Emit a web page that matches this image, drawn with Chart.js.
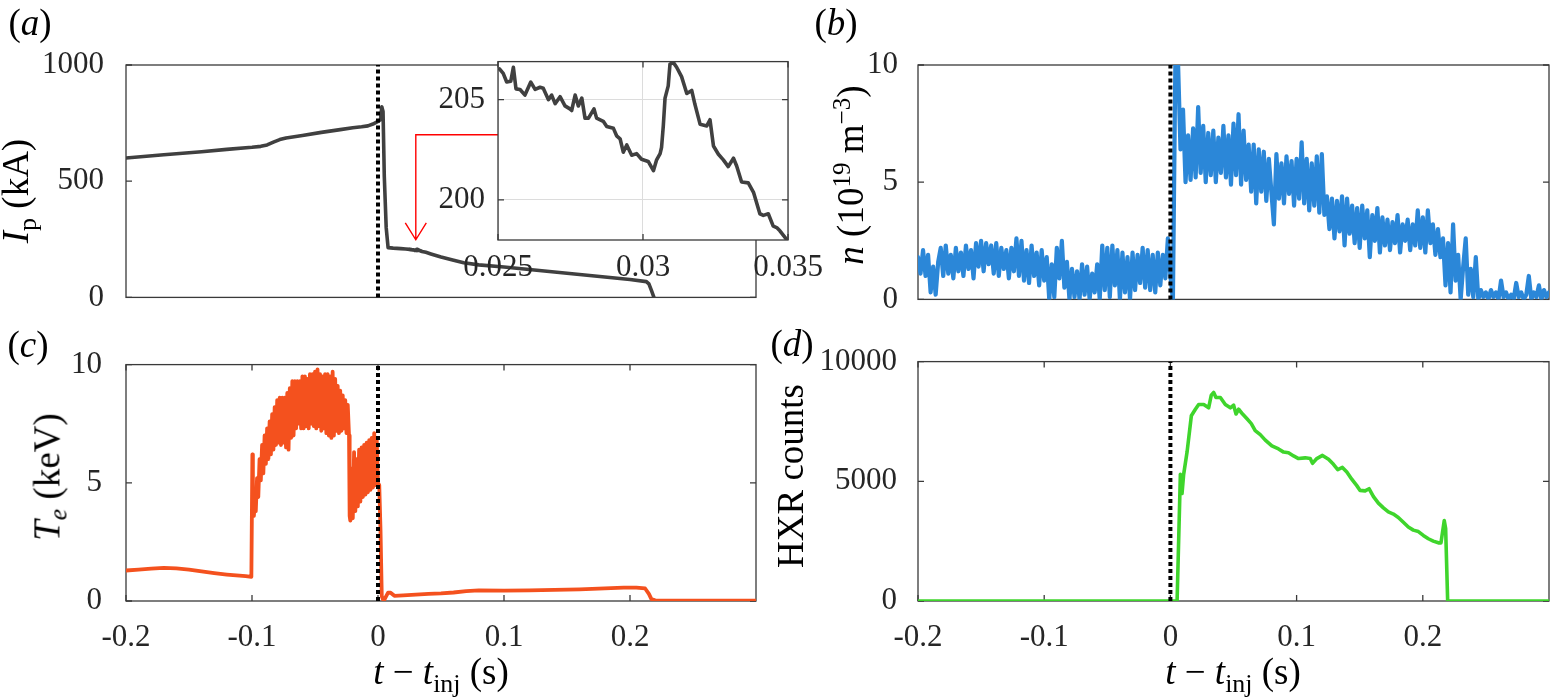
<!DOCTYPE html>
<html><head><meta charset="utf-8">
<script src="https://cdn.jsdelivr.net/npm/chart.js@4.4.1/dist/chart.umd.min.js"></script>
<style>
html,body{margin:0;padding:0;background:#fff;}
#wrap{position:relative;width:1551px;height:697px;overflow:hidden;background:#fff;font-family:'Liberation Serif','DejaVu Serif','Noto Serif',serif;color:#000;}
canvas{position:absolute;}
.lab{position:absolute;white-space:nowrap;font-size:37px;line-height:1;color:#000;}
.rot{transform:translate(-50%,-50%) rotate(-90deg);}
.hor{transform:translate(-50%,-50%);}
.sb{font-size:70%;vertical-align:-0.28em;}
.sp{font-size:68%;vertical-align:0.52em;}
</style></head><body>
<div id="wrap">
<canvas id="cA" width="800" height="330" style="left:0;top:0;width:800px;height:330px"></canvas>
<canvas id="cC" width="800" height="367" style="left:0;top:330px;width:800px;height:367px"></canvas>
<canvas id="cB" width="751" height="330" style="left:800px;top:0;width:751px;height:330px"></canvas>
<canvas id="cD" width="751" height="367" style="left:800px;top:330px;width:751px;height:367px"></canvas>
<canvas id="cI" width="420" height="260" style="left:420px;top:30px;width:420px;height:260px"></canvas>

<div class="lab hor" style="left:30px;top:22px">(<i>a</i>)</div>
<div class="lab hor" style="left:836px;top:22px">(<i>b</i>)</div>
<div class="lab hor" style="left:28px;top:344px">(<i>c</i>)</div>
<div class="lab hor" style="left:792px;top:343px">(<i>d</i>)</div>
<div class="lab rot" style="left:19px;top:191px"><i>I</i><span class="sb">p</span>&nbsp;(kA)</div>
<div class="lab rot" style="left:849px;top:175px"><i>n</i>&nbsp;(10<span class="sp">19</span>&nbsp;m<span class="sp">−3</span>)</div>
<div class="lab rot" style="left:50px;top:477px"><i>T</i><span class="sb"><i>e</i></span>&nbsp;(keV)</div>
<div class="lab rot" style="left:790px;top:476px">HXR counts</div>
<div class="lab hor" style="left:441px;top:675px"><i>t</i> − <i>t</i><span class="sb">inj</span>&nbsp;(s)</div>
<div class="lab hor" style="left:1233px;top:675px"><i>t</i> − <i>t</i><span class="sb">inj</span>&nbsp;(s)</div>
</div>
<script>
// ---------- data ----------
const xTicks = [-0.2, -0.1, 0, 0.1, 0.2];
const ipTicks = [0, 500, 1000];
const nTicks = [0, 5, 10];
const teTicks = [0, 5, 10];
const hxrTicks = [0, 5000, 10000];
const insetXTicks = [0.025, 0.03, 0.035];
const insetYTicks = [200, 205];

// (a) plasma current, kA
const ipPreT = [-0.2,-0.17,-0.14,-0.12,-0.1,-0.093,-0.088,-0.083,-0.078,-0.073,-0.06,-0.045,-0.03,-0.02,-0.013,-0.008,-0.004,0,0.002,0.003,0.004,0.005,0.0065,0.008,0.012,0.018,0.022];
const ipPreV = [600,614,627,637,646,650,656,668,679,686,697,710,722,730,734,738,746,757,765,820,800,520,300,214,212,210,208];
// zoomed window (inset)
const insT = [0.02505,0.02518,0.0253,0.02544,0.02553,0.02562,0.02576,0.02593,0.02613,0.02628,0.02645,0.02656,0.02674,0.02685,0.02697,0.02714,0.02731,0.02748,0.02754,0.02766,0.02777,0.02789,0.028,0.02812,0.02831,0.0284,0.02863,0.02875,0.02898,0.02909,0.02921,0.02932,0.02944,0.02961,0.02978,0.02995,0.03018,0.03036,0.03047,0.03059,0.03064,0.0307,0.03076,0.03087,0.03093,0.03105,0.03116,0.03133,0.03151,0.03168,0.03179,0.03197,0.0322,0.03231,0.03243,0.0326,0.03277,0.03294,0.03312,0.03323,0.0334,0.03363,0.03381,0.03403,0.03415,0.03432,0.03449,0.03461,0.03472,0.03495];
const insV = [206.54,206.31,205.88,205.92,206.62,205.54,205.51,205.23,205.88,205.51,205.62,205.57,205.00,205.23,204.80,205.15,204.69,204.54,204.46,205.23,204.69,205.08,204.08,204.08,204.54,204.08,203.92,203.66,203.57,203.20,203.05,202.38,202.74,202.23,202.31,202.03,201.92,201.46,202.00,202.31,202.62,203.69,205.08,205.69,206.77,206.85,206.62,206.15,205.31,205.46,204.77,203.77,203.69,204.00,202.69,202.28,202.00,201.66,202.08,201.69,200.89,200.85,200.38,199.31,199.23,199.31,198.69,198.62,198.46,198.03];
const ipPostT = [0.038,0.042,0.05,0.06,0.068,0.08,0.1,0.12,0.15,0.18,0.2,0.213,0.215,0.217,0.219];
const ipPostV = [194,187,174,160,149,140,131,120,104,88,77,68,58,30,0];

// (b) density, 1e19 m^-3, sampled every 2 ms from -0.2 s
const nT0 = -0.2, nDt = 0.002;
const nV = [1.8,1.1,2.1,1.0,1.9,0.3,1.4,0.2,1.6,2.2,
1.0,2.3,1.1,1.9,0.9,2.2,1.2,2.0,1.0,2.3,
1.3,2.1,0.9,2.4,1.4,2.5,1.2,2.4,1.5,2.3,
1.1,2.4,1.0,2.2,1.3,2.1,0.9,2.2,1.2,2.6,
1.0,2.5,0.8,2.1,0.7,2.3,1.0,2.0,0.6,2.1,
0.8,1.8,0.0,1.5,0.1,2.2,0.9,2.5,0.5,1.6,
0.0,1.3,0.1,1.2,0.0,1.5,0.2,1.4,0.0,1.1,
0.3,1.5,0.0,2.3,0.4,2.2,0.1,2.3,0.6,2.1,
0.0,2.0,0.3,1.8,0.0,2.0,0.4,1.9,0.7,2.2,
0.5,2.1,0.4,1.9,0.3,2.0,0.6,1.9,0.9,2.6,
1.0,0.0,10.5,10.2,6.4,8.1,5.0,7.0,5.1,7.3,
5.2,8.2,5.4,7.4,5.0,7.1,5.3,7.2,5.0,6.9,
5.4,7.4,5.2,7.0,4.9,7.5,5.3,7.9,4.9,7.2,
5.1,6.6,4.6,6.6,4.1,6.4,4.6,6.3,4.2,6.0,
4.6,3.2,6.2,4.3,5.8,4.1,6.1,4.5,5.9,4.0,
6.0,4.3,6.7,4.1,6.0,3.8,5.8,4.0,6.1,3.7,
6.2,3.6,4.4,3.0,4.3,2.6,4.2,2.9,4.4,2.3,
4.3,2.8,4.0,2.4,3.9,2.2,4.0,2.6,3.8,1.8,
3.6,2.5,3.9,2.0,3.5,2.3,3.4,2.1,3.3,2.4,
3.6,2.0,3.2,2.5,3.4,2.1,3.2,2.3,3.8,2.2,
3.5,2.0,3.8,2.4,3.2,1.9,3.0,1.8,2.6,0.6,
2.4,0.3,3.2,0.8,1.9,0.0,1.4,2.6,0.2,1.3,
0.1,1.8,0.0,0.4,0.1,0.3,0.0,0.4,0.1,0.3,
0.0,0.8,0.1,0.3,0.0,0.2,0.0,0.7,0.1,0.3,
0.0,0.2,1.0,0.0,0.3,0.1,0.6,0.0,0.4,0.1,0.3];

// (c) electron temperature, keV
const tePreT = [-0.2,-0.19,-0.18,-0.17,-0.16,-0.15,-0.14,-0.13,-0.12,-0.11,-0.105,-0.1005,-0.0997,-0.0993,-0.0985];
const tePreV = [1.29,1.33,1.37,1.40,1.38,1.33,1.25,1.18,1.12,1.07,1.05,1.02,6.2,3.8,3.6];
const teBand1T0 = -0.098, teBandDt = 0.001;
const teBand1V = [4.0,3.8,5.2,4.4,6.0,5.1,6.6,5.4,7.0,5.8,
7.3,6.0,7.6,6.2,7.9,6.4,8.2,6.6,8.5,6.7,
8.6,6.6,8.6,6.7,8.6,6.5,8.8,6.4,9.0,6.9,
9.3,7.0,9.3,7.3,9.3,7.5,9.3,7.3,9.5,7.3,
9.5,7.4,9.4,7.3,9.6,7.5,9.6,7.4,9.7,7.3,
9.8,7.4,9.6,7.2,9.5,7.3,9.6,7.1,9.6,7.0,
9.5,6.9,9.7,7.0,9.4,7.2,9.1,7.1,8.9,7.2,
8.7,7.3,8.5,7.1,8.3,7.0];
const teMidT = [-0.0225,-0.022];
const teMidV = [3.6,3.4];
const teBand2T0 = -0.021;
const teBand2V = [5.6,3.5,6.3,3.8,6.0,4.0,6.4,4.2,6.5,4.4,6.6,4.5,6.7,4.6,6.8,4.7,6.9,4.8,7.1,4.9,6.8];
const tePostT = [0,0.001,0.002,0.003,0.0045,0.006,0.008,0.010,0.013,0.02,0.03,0.04,0.05,0.06,0.07,0.08,0.10,0.12,0.14,0.16,0.18,0.195,0.205,0.212,0.215,0.217,0.22,0.25,0.30];
const tePostV = [5.0,4.9,3.0,0.2,0.0,0.15,0.35,0.35,0.22,0.24,0.27,0.30,0.32,0.36,0.42,0.45,0.44,0.45,0.47,0.49,0.53,0.57,0.57,0.53,0.3,0.08,0.03,0.02,0.02];

// (d) hard X-ray counts
const hxT = [-0.2,0.0053,0.0079,0.0092,0.0105,0.0132,0.0166,0.0198,0.0224,0.0264,0.0303,0.0324,0.0343,0.0361,0.0396,0.0435,0.0475,0.0501,0.0520,0.0541,0.0572,0.0607,0.0641,0.0672,0.0712,0.0752,0.0804,0.0857,0.0897,0.0936,0.0976,0.1015,0.1068,0.1108,0.1126,0.1160,0.1205,0.1253,0.1292,0.1326,0.1363,0.1398,0.1437,0.1477,0.1503,0.1543,0.1574,0.1609,0.1648,0.1688,0.1727,0.1767,0.1806,0.1846,0.1885,0.1925,0.1965,0.2004,0.2044,0.2083,0.2123,0.2144,0.2170,0.2181,0.2197,0.3];
const hxV = [0,0,5290,4490,5290,6220,7740,8010,8210,8210,8070,8600,8710,8500,8500,8210,8070,8180,7810,8010,7810,7610,7410,7120,6950,6720,6480,6350,6220,6190,6060,5950,5980,5950,5750,5950,6080,5920,5710,5490,5580,5390,5090,4820,4620,4600,4690,4360,4090,3890,3720,3630,3490,3290,3090,2960,2900,2740,2600,2500,2430,2430,3360,3030,0,0];

// arrow annotation (in panel-a data units)
const arrowT = 0.03, arrowTopIp = 700, arrowTipIp = 248, arrowRightT = 0.0952;

// ---------- helpers ----------
const pairs = (T, V) => T.map((t, i) => ({x: t, y: V[i]}));
const sampled = (t0, dt, V) => V.map((v, i) => ({x: +(t0 + i * dt).toFixed(6), y: v}));
const fmt = v => String(Number((+v).toFixed(3)));

Chart.defaults.font.family = "'Liberation Serif','DejaVu Serif','Noto Serif',serif";
Chart.defaults.font.size = 31;
Chart.defaults.color = '#262626';

const mbox = {
  id: 'mbox',
  beforeDraw(chart, args, o) {
    if (!o.bg) return;
    const a = chart.chartArea, ctx = chart.ctx;
    ctx.save(); ctx.fillStyle = '#fff';
    ctx.fillRect(a.left, a.top, a.right - a.left, a.bottom - a.top); ctx.restore();
  },
  beforeDatasetsDraw(chart, args, o) {
    const a = chart.chartArea, ctx = chart.ctx, sx = chart.scales.x, sy = chart.scales.y;
    const L = 6;
    ctx.save();
    ctx.strokeStyle = '#3a3a3a'; ctx.lineWidth = 1.3;
    ctx.beginPath();
    if (o.xTicks) sx.ticks.forEach(t => {
      const p = sx.getPixelForValue(t.value);
      ctx.moveTo(p, a.bottom); ctx.lineTo(p, a.bottom - L);
      ctx.moveTo(p, a.top); ctx.lineTo(p, a.top + L);
    });
    sy.ticks.forEach(t => {
      const p = sy.getPixelForValue(t.value);
      ctx.moveTo(a.left, p); ctx.lineTo(a.left + L, p);
      ctx.moveTo(a.right, p); ctx.lineTo(a.right - L, p);
    });
    ctx.stroke();
    ctx.strokeRect(a.left, a.top, a.right - a.left, a.bottom - a.top);
    ctx.restore();
  },
  afterDatasetsDraw(chart, args, o) {
    if (!o.arrow) return;
    const ctx = chart.ctx, sx = chart.scales.x, sy = chart.scales.y;
    const x = sx.getPixelForValue(arrowT), xr = sx.getPixelForValue(arrowRightT);
    const y0 = sy.getPixelForValue(arrowTopIp), y1 = sy.getPixelForValue(arrowTipIp);
    ctx.save();
    ctx.strokeStyle = '#ff0000'; ctx.lineWidth = 1.4;
    ctx.beginPath();
    ctx.moveTo(xr, y0); ctx.lineTo(x, y0); ctx.lineTo(x, y1);
    ctx.moveTo(x - 10.5, y1 - 17); ctx.lineTo(x, y1); ctx.lineTo(x + 10.5, y1 - 17);
    ctx.stroke();
    ctx.restore();
  }
};

function line(data, color, w) {
  return {data, borderColor: color, borderWidth: w, pointRadius: 0, tension: 0,
          borderJoinStyle: 'round', borderCapStyle: 'round', fill: false, order: 1};
}
function zeroLine(y0, y1) {
  return {data: [{x: 0, y: y0}, {x: 0, y: y1}], borderColor: '#000', borderWidth: 4,
          borderDash: [4, 3], pointRadius: 0, fill: false, order: 0};
}

function makeChart(id, p) {
  return new Chart(document.getElementById(id), {
    type: 'line',
    data: {datasets: p.datasets},
    plugins: [mbox],
    options: {
      responsive: false, animation: false, events: [],
      layout: {padding: p.pad},
      plugins: {legend: {display: false}, tooltip: {enabled: false}, mbox: p.box},
      scales: {
        x: {
          type: 'linear', min: p.xMin, max: p.xMax,
          afterBuildTicks: s => { s.ticks = p.xTickVals.map(v => ({value: v})); },
          afterFit: s => { s.height = p.xH; },
          ticks: {display: p.xLabels, padding: p.xPad, maxRotation: 0, autoSkip: false, callback: fmt},
          grid: p.grid ? {display: true, drawTicks: false, color: '#dcdcdc', lineWidth: 1} : {display: false},
          border: {display: false}
        },
        y: {
          type: 'linear', min: p.yMin, max: p.yMax,
          afterBuildTicks: s => { s.ticks = p.yTickVals.map(v => ({value: v})); },
          afterFit: s => { s.width = p.yW; },
          ticks: {padding: p.yPad, autoSkip: false, callback: fmt},
          grid: p.grid ? {display: true, drawTicks: false, color: '#dcdcdc', lineWidth: 1} : {display: false},
          border: {display: false}
        }
      }
    }
  });
}

const ipData = pairs(ipPreT, ipPreV).concat(pairs(insT, insV), pairs(ipPostT, ipPostV));
const nData = sampled(nT0, nDt, nV);
const teData = pairs(tePreT, tePreV).concat(sampled(teBand1T0, teBandDt, teBand1V), pairs(teMidT, teMidV),
  sampled(teBand2T0, teBandDt, teBand2V), pairs(tePostT, tePostV));
const hxData = pairs(hxT, hxV);

makeChart('cA', {
  datasets: [zeroLine(0, 1000), line(ipData, '#404040', 3.6)],
  pad: {left: 0, top: 65, right: 44, bottom: 0}, yW: 126, xH: 15,
  xMin: -0.2, xMax: 0.3, xTickVals: xTicks, xLabels: false, xPad: 10,
  yMin: 0, yMax: 1000, yTickVals: ipTicks, yPad: 14, box: {xTicks: false, arrow: true}
});
makeChart('cB', {
  datasets: [zeroLine(0, 10), line(nData, '#2b87d8', 4.2)],
  pad: {left: 0, top: 65, right: 2, bottom: 0}, yW: 118, xH: 15,
  xMin: -0.2, xMax: 0.3, xTickVals: xTicks, xLabels: false, xPad: 10,
  yMin: 0, yMax: 10, yTickVals: nTicks, yPad: 12, box: {xTicks: false}
});
makeChart('cC', {
  datasets: [zeroLine(0, 10), line(teData, '#f4511e', 3.8)],
  pad: {left: 0, top: 20, right: 44, bottom: 0}, yW: 126, xH: 96,
  xMin: -0.2, xMax: 0.3, xTickVals: xTicks, xLabels: true, xPad: 10,
  yMin: 0, yMax: 10, yTickVals: teTicks, yPad: 16, box: {xTicks: true}
});
makeChart('cD', {
  datasets: [zeroLine(0, 10000), line(hxData, '#3fd52c', 3.6)],
  pad: {left: 0, top: 20, right: 2, bottom: 0}, yW: 118, xH: 96,
  xMin: -0.2, xMax: 0.3, xTickVals: xTicks, xLabels: true, xPad: 10,
  yMin: 0, yMax: 10000, yTickVals: hxrTicks, yPad: 13, box: {xTicks: true}
});
makeChart('cI', {
  datasets: [line(pairs(insT, insV), '#404040', 3.6)],
  pad: {left: 0, top: 17, right: 52, bottom: 0}, yW: 78, xH: 50,
  xMin: 0.025, xMax: 0.035, xTickVals: insetXTicks, xLabels: true, xPad: 9,
  yMin: 198, yMax: 206.9, yTickVals: insetYTicks, yPad: 13, box: {xTicks: true, bg: true}, grid: true
});
</script>
</body></html>
